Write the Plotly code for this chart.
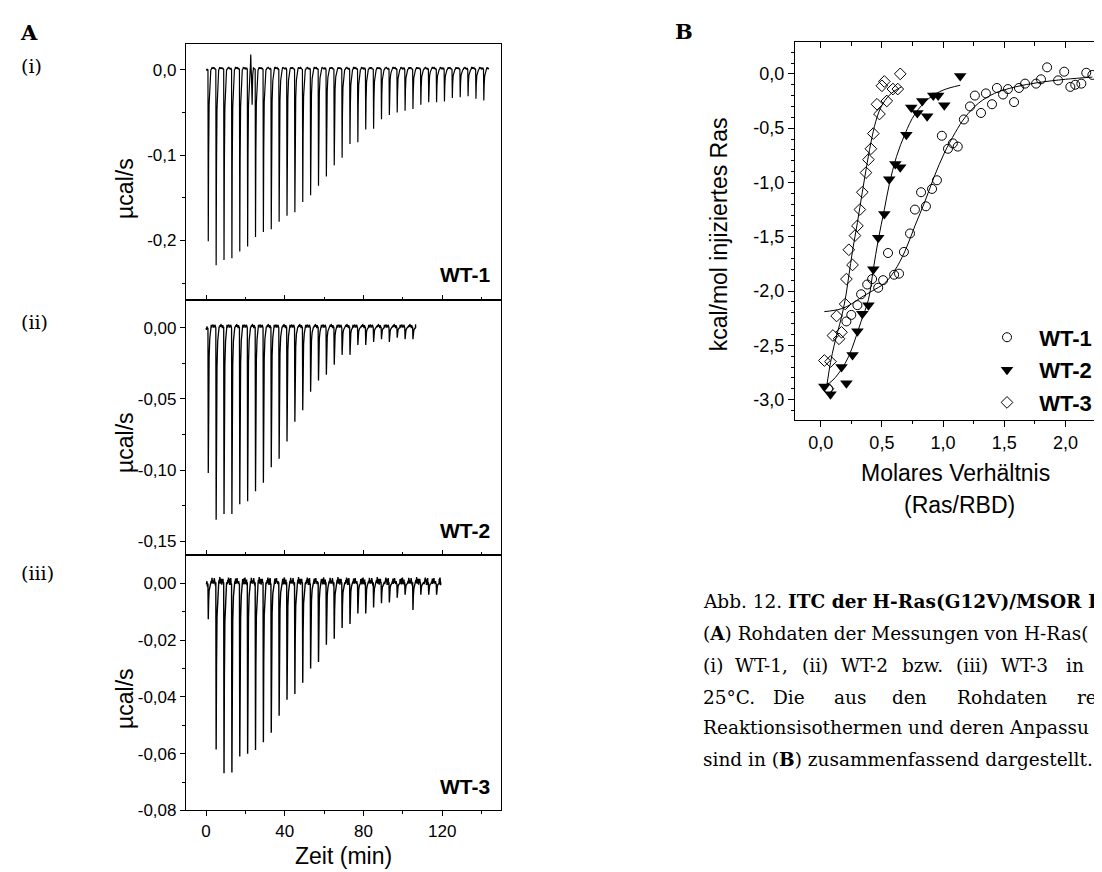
import plotly.graph_objects as go

W, H = 1102, 872

# ---------------- Panel A data (ITC raw data) ----------------
inj_t_1 = [1, 5, 9, 13, 17, 21, 25, 29, 33, 37, 41, 45, 49, 53, 57, 61, 65, 69,
           73, 77, 81, 85, 89, 93, 97, 101, 105, 109, 113, 117, 121, 125, 129, 133, 137, 141]
peak_1 = [-0.201, -0.229, -0.223, -0.221, -0.213, -0.207, -0.196, -0.190, -0.187, -0.178,
          -0.171, -0.167, -0.155, -0.147, -0.136, -0.125, -0.112, -0.103, -0.087, -0.085,
          -0.070, -0.069, -0.058, -0.053, -0.050, -0.048, -0.046, -0.041, -0.038, -0.038,
          -0.037, -0.033, -0.032, -0.031, -0.034, -0.036]
end_1 = 143.6
glitch_t_1 = [22.5, 22.7, 22.85, 23.1, 23.4, 23.7, 24.0]
glitch_v_1 = [0.002, 0.018, 0.004, -0.010, -0.041, -0.006, 0.002]

inj_t_2 = [1, 5, 9, 13, 17, 21, 25, 29, 33, 37, 41, 45, 49, 53, 57, 61, 65, 69,
           73, 77, 81, 85, 89, 93, 97, 101, 105]
peak_2 = [-0.102, -0.135, -0.131, -0.131, -0.124, -0.122, -0.115, -0.109, -0.098, -0.092,
          -0.080, -0.066, -0.058, -0.045, -0.037, -0.033, -0.026, -0.019, -0.019, -0.012,
          -0.012, -0.010, -0.008, -0.010, -0.007, -0.008, -0.008]
end_2 = 106.6

inj_t_3 = [1, 5, 9, 13, 17, 21, 25, 29, 33, 37, 41, 45, 49, 53, 57, 61, 65, 69,
           73, 77, 81, 85, 89, 93, 97, 101, 105, 109, 113, 117]
peak_3 = [-0.0126, -0.0585, -0.0669, -0.0666, -0.061, -0.060, -0.0587, -0.056, -0.0526,
          -0.0466, -0.041, -0.039, -0.035, -0.030, -0.0277, -0.0216, -0.0195, -0.0157,
          -0.0143, -0.0106, -0.0106, -0.0085, -0.007, -0.0067, -0.005, -0.004, -0.0094,
          -0.004, -0.004, -0.004]
end_3 = 119.3

# baseline texture (relative units)
noise_pattern = [0.2, -0.6, 0.9, -0.3, 0.5, -1.0, 0.7, -0.4, 1.0, -0.8,
                 0.3, -0.1, 0.6, -0.9, 0.4, -0.5, 0.8, -0.2, 0.1, -0.7]

A_xticks = [0, 40, 80, 120]
A1_yticks = [0.0, -0.1, -0.2]
A2_yticks = [0.0, -0.05, -0.10, -0.15]
A3_yticks = [0.0, -0.02, -0.04, -0.06, -0.08]

# ---------------- Panel B data (binding isotherms) ----------------
wt1_x = [0.06, 0.21, 0.25, 0.30, 0.33, 0.38, 0.42, 0.47, 0.51, 0.55, 0.60, 0.64, 0.68, 0.73,
         0.77, 0.82, 0.86, 0.91, 0.95, 0.99, 1.04, 1.08, 1.12, 1.17, 1.22, 1.26, 1.31, 1.35,
         1.40, 1.44, 1.49, 1.53, 1.58, 1.62, 1.67, 1.76, 1.80, 1.85, 1.94, 1.99, 2.04, 2.08,
         2.13, 2.17, 2.22]
wt1_y = [-2.90, -2.28, -2.22, -2.13, -2.03, -1.94, -1.89, -1.97, -1.90, -1.65, -1.85, -1.84,
         -1.64, -1.47, -1.25, -1.09, -1.22, -1.06, -0.98, -0.57, -0.69, -0.64, -0.67, -0.42,
         -0.30, -0.20, -0.36, -0.18, -0.28, -0.13, -0.19, -0.14, -0.26, -0.13, -0.09, -0.09,
         -0.05, 0.06, -0.06, 0.02, -0.12, -0.10, -0.09, 0.01, -0.01]

wt2_x = [0.03, 0.08, 0.17, 0.21, 0.26, 0.30, 0.34, 0.39, 0.43, 0.47, 0.52, 0.56, 0.61, 0.65,
         0.70, 0.74, 0.79, 0.83, 0.87, 0.92, 0.96, 1.01, 1.14]
wt2_y = [-2.88, -2.95, -2.70, -2.85, -2.59, -2.37, -2.21, -2.13, -1.80, -1.51, -1.29, -0.97,
         -0.83, -0.86, -0.56, -0.31, -0.36, -0.25, -0.39, -0.20, -0.20, -0.29, -0.02]

wt3_x = [0.03, 0.06, 0.08, 0.10, 0.13, 0.15, 0.17, 0.20, 0.21, 0.23, 0.26, 0.28, 0.30, 0.32,
         0.34, 0.37, 0.39, 0.41, 0.43, 0.46, 0.48, 0.50, 0.52, 0.54, 0.59, 0.63, 0.65]
wt3_y = [-2.64, -2.90, -2.65, -2.41, -2.23, -2.44, -2.38, -2.12, -1.89, -1.62, -1.76, -1.49,
         -1.40, -1.25, -1.09, -0.91, -0.79, -0.69, -0.55, -0.28, -0.37, -0.11, -0.07, -0.25,
         -0.14, -0.14, 0.00]

fit1_x = [0.03, 0.10, 0.18, 0.25, 0.33, 0.42, 0.52, 0.60, 0.69, 0.77, 0.85, 0.93, 1.01, 1.10,
          1.18, 1.29, 1.42, 1.59, 1.78, 2.00, 2.22]
fit1_y = [-2.19, -2.18, -2.16, -2.12, -2.06, -2.00, -1.93, -1.82, -1.63, -1.40, -1.18, -0.94,
          -0.73, -0.54, -0.40, -0.27, -0.18, -0.12, -0.08, -0.05, -0.03]
fit2_x = [0.03, 0.10, 0.17, 0.23, 0.28, 0.33, 0.39, 0.43, 0.47, 0.52, 0.56, 0.62, 0.69, 0.77,
          0.88, 1.00, 1.14]
fit2_y = [-2.88, -2.82, -2.72, -2.60, -2.45, -2.28, -2.08, -1.80, -1.53, -1.25, -1.02, -0.76,
          -0.55, -0.37, -0.23, -0.15, -0.105]
fit3_x = [0.05, 0.08, 0.11, 0.14, 0.17, 0.20, 0.23, 0.26, 0.30, 0.34, 0.38, 0.42, 0.46, 0.50,
          0.55, 0.60, 0.66]
fit3_y = [-2.87, -2.66, -2.50, -2.37, -2.24, -2.08, -1.86, -1.63, -1.37, -1.09, -0.82, -0.58,
          -0.40, -0.29, -0.21, -0.16, -0.12]

B_xticks = [0.0, 0.5, 1.0, 1.5, 2.0]
B_yticks = [0.0, -0.5, -1.0, -1.5, -2.0, -2.5, -3.0]

# ---------------- caption (justified lines: word, left x) ----------------
cap_line1 = "Abb. 12. <b>ITC der H-Ras(G12V)/MSOR I</b>"
cap_line2 = "(<b>A</b>) Rohdaten der Messungen von H-Ras("
cap_line3 = [("(i)", 693), ("WT-1,", 725), ("(ii)", 792), ("WT-2", 831), ("bzw.", 892),
             ("(iii)", 946), ("WT-3", 991), ("in", 1056), ("P", 1084)]
cap_line4 = [("25°C.", 693), ("Die", 763), ("aus", 824), ("den", 882), ("Rohdaten", 947),
             ("resu", 1067)]
cap_line5 = "Reaktionsisothermen und deren Anpassu"
cap_line6 = "sind in (<b>B</b>) zusammenfassend dargestellt."

# ---------------- helpers ----------------
SANS = "Liberation Sans, Arial, sans-serif"
SERIF = "DejaVu Serif, serif"


def fmt(v, nd):
    return f"{v:.{nd}f}".replace(".", ",")


PEAK_DT = [-0.05, 0.12, 0.3, 0.55, 0.9, 1.4]
PEAK_F = [0.0, 1.0, 0.5, 0.2, 0.07, 0.0]


def itc_series(inj_t, peaks, t_end, hump, amp, per_gap, k0=0):
    xs, ys = [0.0], [0.0]
    k = k0
    for j in range(1, 4):
        xs.append(inj_t[0] * j / 4 - 0.05)
        ys.append(amp * noise_pattern[k % len(noise_pattern)])
        k += 1
    for i, (t, d) in enumerate(zip(inj_t, peaks)):
        for dt, f in zip(PEAK_DT, PEAK_F):
            xs.append(t + dt)
            ys.append(d * f)
        t_next = inj_t[i + 1] if i + 1 < len(inj_t) else t_end
        a = t + PEAK_DT[-1]
        b = t_next - 0.05
        for j in range(1, per_gap + 1):
            u = j / (per_gap + 1)
            xs.append(a + u * (b - a))
            base = hump * min(1.0, u * 4) * (1 - 0.6 * u)
            ys.append(base + amp * noise_pattern[k % len(noise_pattern)])
            k += 1
        xs.append(b)
        ys.append(hump * 0.35)
    return xs, ys


def px(x):
    return x / W


def py(y):
    return 1 - y / H


fig = go.Figure()

# Panel A traces
x1, y1 = itc_series(inj_t_1, peak_1, end_1, 0.003, 0.0012, 8)
pts = [(a, b) for a, b in zip(x1, y1) if not (22.45 < a < 24.05)]
pts += list(zip(glitch_t_1, glitch_v_1))
pts.sort()
x1 = [p[0] for p in pts]
y1 = [p[1] for p in pts]
fig.add_trace(go.Scatter(x=x1, y=y1, mode="lines", line=dict(color="black", width=1.2),
                         xaxis="x", yaxis="y", showlegend=False, hoverinfo="skip"))
x2, y2 = itc_series(inj_t_2, peak_2, end_2, 0.002, 0.0014, 10, 5)
fig.add_trace(go.Scatter(x=x2, y=y2, mode="lines", line=dict(color="black", width=1.3),
                         xaxis="x2", yaxis="y2", showlegend=False, hoverinfo="skip"))
x3, y3 = itc_series(inj_t_3, peak_3, end_3, 0.0012, 0.0013, 12, 11)
fig.add_trace(go.Scatter(x=x3, y=y3, mode="lines", line=dict(color="black", width=1.4),
                         xaxis="x3", yaxis="y3", showlegend=False, hoverinfo="skip"))

# Panel B fits
for fx, fy in [(fit1_x, fit1_y), (fit2_x, fit2_y), (fit3_x, fit3_y)]:
    fig.add_trace(go.Scatter(x=fx, y=fy, mode="lines", line=dict(color="black", width=1, shape="spline"),
                             xaxis="x4", yaxis="y4", showlegend=False, hoverinfo="skip"))

NB = "\u00a0\u00a0"
fig.add_trace(go.Scatter(x=wt1_x, y=wt1_y, mode="markers", name=NB + "<b>WT-1</b>",
                         marker=dict(symbol="circle-open", size=9, color="black", line=dict(width=1)),
                         xaxis="x4", yaxis="y4", legendgroup="a"))
fig.add_trace(go.Scatter(x=wt2_x, y=wt2_y, mode="markers", name=NB + "<b>WT-2</b>",
                         marker=dict(symbol="triangle-down", size=11, color="black"),
                         xaxis="x4", yaxis="y4", legendgroup="b"))
fig.add_trace(go.Scatter(x=wt3_x, y=wt3_y, mode="markers", name=NB + "<b>WT-3</b>",
                         marker=dict(symbol="diamond-open", size=9, color="black", line=dict(width=1)),
                         xaxis="x4", yaxis="y4", legendgroup="c"))
# invisible trace to carry the mirror axes of panel B
fig.add_trace(go.Scatter(x=wt1_x, y=wt1_y, mode="markers", marker=dict(opacity=0),
                         xaxis="x5", yaxis="y5", showlegend=False, hoverinfo="skip"))

# ---------------- axes ----------------
AX = dict(showline=True, linecolor="black", linewidth=1.2, showgrid=False, zeroline=False,
          tickcolor="black", tickwidth=1.1, tickfont=dict(family=SANS, size=17, color="black"))

A_dom_x = [px(178), px(493.3)]
A_xrange = [-10.2, 150]
A1_dom = [py(295.5), py(36.7)]
A2_dom = [py(553.7), py(295.5)]
A3_dom = [py(811.7), py(553.7)]


def minor(dt, ln, where):
    return dict(tickmode="linear", tick0=0, dtick=dt, ticklen=ln, tickcolor="black", ticks=where)


xcommon = dict(AX, domain=A_dom_x, range=A_xrange, mirror=True, tickmode="array",
               tickvals=A_xticks, ticklen=5)

fig.update_layout(
    xaxis=dict(xcommon, anchor="y", ticks="inside", showticklabels=False, minor=minor(20, 3, "inside")),
    xaxis2=dict(xcommon, anchor="y2", ticks="inside", showticklabels=False, minor=minor(20, 3, "inside")),
    xaxis3=dict(xcommon, anchor="y3", ticks="outside", ticktext=[str(v) for v in A_xticks],
                minor=minor(20, 3, "outside")),
    yaxis=dict(AX, domain=A1_dom, anchor="x", range=[-0.27, 0.03], mirror=True, ticks="outside",
               ticklen=5, tickmode="array", tickvals=A1_yticks, ticktext=[fmt(v, 1) for v in A1_yticks],
               minor=minor(0.05, 3, "outside")),
    yaxis2=dict(AX, domain=A2_dom, anchor="x2", range=[-0.16, 0.0195], mirror=True, ticks="outside",
                ticklen=5, tickmode="array", tickvals=A2_yticks, ticktext=[fmt(v, 2) for v in A2_yticks],
                minor=minor(0.025, 3, "outside")),
    yaxis3=dict(AX, domain=A3_dom, anchor="x3", range=[-0.08, 0.0099], mirror=True, ticks="outside",
                ticklen=5, tickmode="array", tickvals=A3_yticks, ticktext=[fmt(v, 2) for v in A3_yticks],
                minor=minor(0.01, 3, "outside")),
)

B_dom_x = [px(787), px(1101.5)]
B_dom_y = [py(417), py(34)]
B_xrange = [-0.21, 2.36]
B_yrange = [-3.19, 0.297]
BTF = dict(family=SANS, size=18, color="black")
fig.update_layout(
    xaxis4=dict(AX, domain=B_dom_x, anchor="y4", range=B_xrange, ticks="outside", ticklen=6,
                tickmode="array", tickvals=B_xticks, ticktext=[fmt(v, 1) for v in B_xticks], tickfont=BTF,
                minor=minor(0.25, 3, "outside")),
    yaxis4=dict(AX, domain=B_dom_y, anchor="x4", range=B_yrange, ticks="outside", ticklen=6,
                tickmode="array", tickvals=B_yticks, ticktext=[fmt(v, 1) for v in B_yticks], tickfont=BTF,
                minor=minor(0.1, 3, "outside")),
    xaxis5=dict(AX, overlaying="x4", side="top", anchor="y4", range=B_xrange, ticks="inside", ticklen=6,
                showticklabels=False, tickmode="linear", tick0=0, dtick=0.5, minor=minor(0.25, 4, "inside")),
    yaxis5=dict(AX, overlaying="y4", side="right", anchor="x4", range=B_yrange, ticks="inside", ticklen=5,
                showticklabels=False, tickmode="linear", tick0=0, dtick=0.5),
)

# ---------------- annotations ----------------
ann = []


def add_text(text, x, y, size, family=SANS, xanchor="center", angle=0, yanchor="middle"):
    ann.append(dict(text=text, x=px(x), y=py(y), xref="paper", yref="paper", showarrow=False,
                    xanchor=xanchor, yanchor=yanchor, textangle=angle,
                    font=dict(family=family, size=size, color="black")))


add_text("<b>A</b>", 10, 25, 21, SERIF, "left")
add_text("<b>B</b>", 665, 24, 21, SERIF, "left")
add_text("(i)", 11, 59, 19, SERIF, "left")
add_text("(ii)", 11, 318, 19, SERIF, "left")
add_text("(iii)", 11, 572, 19, SERIF, "left")

for yy in [183, 440, 699]:
    add_text("µcal/s", 117, yy, 23, angle=-90)
for lab, yy in [("WT-1", 270), ("WT-2", 529), ("WT-3", 788)]:
    add_text("<b>" + lab + "</b>", 484, yy, 21, xanchor="right")
add_text("Zeit (min)", 335, 858, 23)

add_text("kcal/mol injiziertes Ras", 711, 229, 23, angle=-90)
add_text("Molares Verhältnis", 947, 470, 23)
add_text("(Ras/RBD)", 951, 503, 23)

CAP = 18.5
cx = 693
add_text(cap_line1, cx, 600, CAP, SERIF, "left")
add_text(cap_line2, cx, 633, CAP, SERIF, "left")
for word, xx in cap_line3:
    add_text(word, xx, 665, CAP, SERIF, "left")
for word, xx in cap_line4:
    add_text(word, xx, 697, CAP, SERIF, "left")
add_text(cap_line5, cx, 728, CAP, SERIF, "left")
add_text(cap_line6, cx, 760, CAP, SERIF, "left")

fig.update_layout(
    annotations=ann,
    width=W, height=H, autosize=False,
    margin=dict(l=0, r=0, t=0, b=0, pad=0),
    paper_bgcolor="white", plot_bgcolor="rgba(0,0,0,0)",
    separators=",.",
    showlegend=True,
    legend=dict(x=px(979), y=py(312), xanchor="left", yanchor="top", bgcolor="rgba(0,0,0,0)",
                font=dict(family=SANS, size=22, color="black"), tracegroupgap=1,
                itemclick=False, itemdoubleclick=False),
    font=dict(family=SANS, color="black"),
)

fig.write_html("out.html")
